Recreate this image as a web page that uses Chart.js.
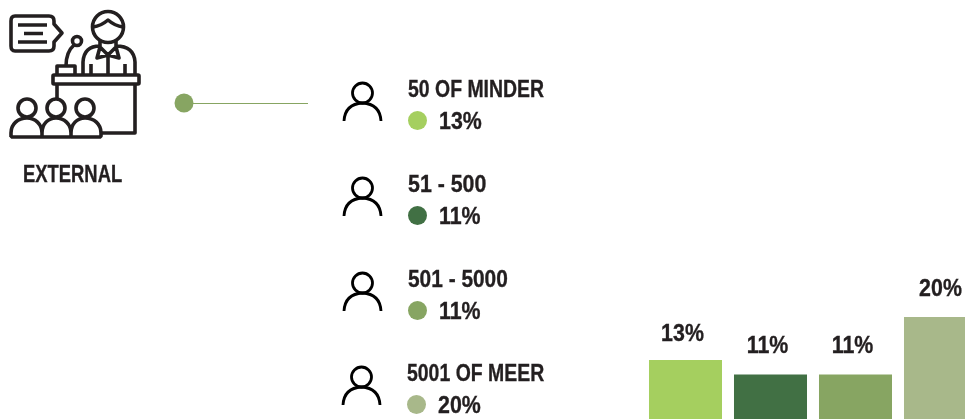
<!DOCTYPE html>
<html>
<head>
<meta charset="utf-8">
<script src="https://cdn.jsdelivr.net/npm/chart.js@4/dist/chart.umd.min.js"></script>
<style>
  html,body{margin:0;padding:0;background:#fff;overflow:hidden}
  #wrap{position:relative;width:965px;height:419px;overflow:hidden}
  #wrap canvas{position:absolute;left:0;top:0}
  #wrap svg{position:absolute;left:0;top:0}
  .txt{position:absolute;font-family:"Liberation Sans",sans-serif;font-weight:700;color:#231f20;white-space:nowrap;line-height:1;transform-origin:left center;-webkit-text-stroke:.35px #231f20}
  .dot{position:absolute;border-radius:50%;width:19px;height:19px}
</style>
</head>
<body>
<div id="wrap">
  <canvas id="myChart" width="983" height="445"></canvas>
  <svg width="965" height="419" fill="none" stroke="#231f20" stroke-width="3.600" stroke-linejoin="round" stroke-linecap="butt">
    <!-- speech bubble -->
    <path d="M15 16H49Q54 16 54 21V24L62 33L54 42V46Q54 51 49 51H15Q11 51 11 46V21Q11 16 15 16Z"/>
    <path d="M18 25H47M24 33.500H43M18 42H47"/>
    <!-- speaker -->
    <circle cx="108" cy="27" r="15.500"/>
    <path d="M93 27Q101 26 108 20Q115 26 123 27"/>
    <path d="M100 41V47L108 55L116 47V41M83 74V62Q84 46 100 46M116 46Q134 46 135 62V74M108 55V74M91 64V74M125 64V74M100 47L97 58L108 55L119 58L116 47"/>
    <!-- mic -->
    <circle cx="77" cy="41" r="4.500"/>
    <path d="M74 45Q66 52 66 66M57 74V66H75V74"/>
    <!-- podium -->
    <path d="M54 75H138Q139 75 139 76V83Q139 84 138 84H54Q53 84 53 83V76Q53 75 54 75Z"/>
    <path d="M57 84V100M135 84V133H101"/>
    <!-- audience -->
    <circle cx="27" cy="108" r="9"/>
    <circle cx="56" cy="108" r="9"/>
    <circle cx="85" cy="108" r="9"/>
    <path d="M11 137V133C11 124 18 118 27 118C35 118 42 124 42 133V137M42 133C42 124 48 118 56 118C64 118 71 124 71 133V137M71 133C71 124 77 118 85 118C94 118 101 124 101 133V136L100 137H12L11 136"/>
    <g id="people" stroke="#000" stroke-width="2.800"></g>
    <!-- connector -->
    <path d="M184 103.500H308" stroke="#87a562" stroke-width="1"/>
    <circle cx="184" cy="103" r="9.500" fill="#87a562" stroke="none"/>
  </svg>
  <div class="txt" style="left:23px;top:163px;font-size:23px;transform:scaleX(.8)" id="ext"></div>
</div>
<script>
const groupName = 'EXTERNAL'
const categories = ['50 OF MINDER', '51 - 500', '501 - 5000', '5001 OF MEER']
// labels are rounded, the bars are read from their heights
const barValues = [13.3, 11, 11, 20]
const shownPercent = ['13%', '11%', '11%', '20%']
const barColors = ['#a5cf5f', '#417044', '#87a562', '#a8b88a']

const wrap = document.getElementById('wrap')
document.getElementById('ext').textContent = groupName

const people = document.getElementById('people')
const rowY = [89, 184, 279, 373]
const rowX = [408, 408, 408, 407]
const titleScale = [0.81, 0.89, 0.87, 0.81]
categories.forEach((name, i) => {
  const x = rowX[i], y = rowY[i]
  const icon = `<circle cx="${x - 45.500}" cy="${y + 4}" r="10"/><path d="M${x - 64} ${y + 32}Q${x - 63} ${y + 15} ${x - 45.500} ${y + 14}Q${x - 28} ${y + 15} ${x - 27} ${y + 32}"/>`
  people.insertAdjacentHTML('beforeend', icon)

  const title = document.createElement('div')
  title.className = 'txt'
  title.style.cssText = `left:${x}px;top:${y - 12}px;font-size:24px;transform:scaleX(${titleScale[i]})`
  title.textContent = name
  wrap.appendChild(title)

  const dot = document.createElement('div')
  dot.className = 'dot'
  dot.style.cssText = `left:${x}px;top:${y + 21.500}px;background:${barColors[i]}`
  wrap.appendChild(dot)

  const pct = document.createElement('div')
  pct.className = 'txt'
  pct.style.cssText = `left:${x + 31}px;top:${y + 20}px;font-size:24px;transform:scaleX(.89)`
  pct.textContent = shownPercent[i]
  wrap.appendChild(pct)
})

// hand nudges so the labels sit where the reference has them
const labelDx = [-3, -3, -3, 0]
const labelDy = [19, 22, 22, 21]
const barLabels = {
  id: 'barLabels',
  afterDatasetsDraw(chart) {
    const c = chart.ctx
    c.save()
    c.font = '700 24px "Liberation Sans", sans-serif'
    c.fillStyle = '#231f20'
    c.strokeStyle = '#231f20'
    c.lineWidth = 0.35
    c.textAlign = 'center'
    c.textBaseline = 'alphabetic'
    chart.getDatasetMeta(0).data.forEach((bar, i) => {
      c.save()
      c.translate(bar.x + labelDx[i], bar.y - labelDy[i])
      c.scale(0.89, 1)
      c.fillText(shownPercent[i], 0, 0)
      c.strokeText(shownPercent[i], 0, 0)
      c.restore()
    })
    c.restore()
  }
}

new Chart(document.getElementById('myChart'), {
  type: 'bar',
  data: {
    labels: categories,
    datasets: [{
      data: barValues,
      backgroundColor: barColors,
      borderWidth: 0,
      categoryPercentage: 1,
      barPercentage: 0.859
    }]
  },
  options: {
    responsive: false,
    animation: false,
    layout: { padding: { left: 643, right: 0, top: 285, bottom: 0 } },
    plugins: { legend: { display: false }, tooltip: { enabled: false } },
    scales: {
      x: { display: false, grid: { display: false } },
      y: { display: false, min: 0, max: 25, grid: { display: false } }
    }
  },
  plugins: [barLabels]
})
</script>
</body>
</html>
